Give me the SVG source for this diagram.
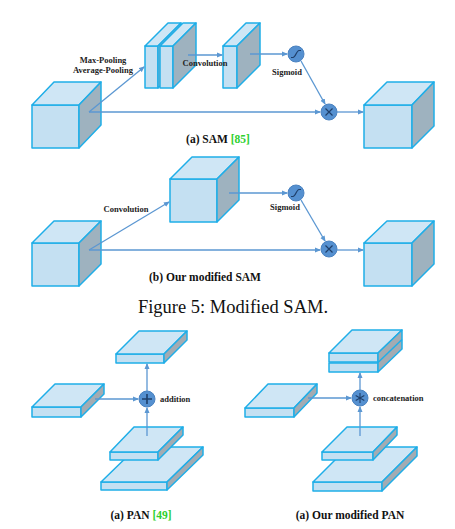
<svg xmlns="http://www.w3.org/2000/svg" width="455" height="529" viewBox="0 0 455 529">
<defs>
<style>
.fr{fill:#c4e0f2;stroke:#1faee8;stroke-width:1.5;stroke-linejoin:round}
.tp{fill:#cfe6f5;stroke:#1faee8;stroke-width:1.5;stroke-linejoin:round}
.rt{fill:#9eb2bf;stroke:#1faee8;stroke-width:1.5;stroke-linejoin:round}
.rg{fill:#a3abb2;stroke:#1faee8;stroke-width:1.5;stroke-linejoin:round}
.ar{fill:none;stroke:#5b97d2;stroke-width:1.3;marker-end:url(#ah)}
.op{fill:#5590d0;stroke:#4a82c0;stroke-width:1}
.sym{fill:none;stroke:#1f3f6a;stroke-width:1.2}
.lb{font-family:"Liberation Serif",serif;font-weight:bold;font-size:8.5px;fill:#222}
.cap{font-family:"Liberation Serif",serif;font-weight:bold;font-size:11.5px;fill:#111}
.ref{fill:#2ed02e}
</style>
<marker id="ah" markerWidth="6" markerHeight="6" refX="5" refY="3" orient="auto" markerUnits="userSpaceOnUse">
<path d="M0,0.5 L6,3 L0,5.5 z" fill="#5b97d2"/>
</marker>
</defs>

<!-- SAM -->
<g id="sam-input">
<rect class="fr" x="32" y="105" width="47" height="43"/>
<polygon class="tp" points="32,105 54,82 101,82 79,105"/>
<polygon class="rt" points="79,105 101,82 101,125 79,148"/>
</g>
<g id="sam-pool1">
<rect class="fr" x="145" y="46" width="13" height="42"/>
<polygon class="tp" points="145,46 168,23 181,23 158,46"/>
<polygon class="rt" points="158,46 181,23 181,65 158,88"/>
</g>
<g id="sam-pool2">
<rect class="fr" x="160" y="46" width="13" height="42"/>
<polygon class="tp" points="160,46 183,23 196,23 173,46"/>
<polygon class="rt" points="173,46 196,23 196,65 173,88"/>
</g>
<g id="sam-conv">
<rect class="fr" x="223" y="46" width="14" height="42"/>
<polygon class="tp" points="223,46 246,23 260,23 237,46"/>
<polygon class="rt" points="237,46 260,23 260,65 237,88"/>
</g>
<g id="sam-sigmoid">
<circle class="op" cx="296" cy="54" r="8"/>
<path class="sym" d="M291,57.5 L293,57.5 C295.5,57.5 296.5,50.5 299,50.5 L301,50.5"/>
</g>
<g id="sam-mul">
<circle class="op" cx="329" cy="112" r="8"/>
<path class="sym" d="M325.5,108.5 L332.5,115.5 M332.5,108.5 L325.5,115.5"/>
</g>
<g id="sam-output">
<rect class="fr" x="364" y="105" width="48" height="43"/>
<polygon class="tp" points="364,105 387,82 434,82 412,105"/>
<polygon class="rt" points="412,105 434,82 434,126 412,148"/>
</g>
<text class="lb" x="103" y="63" text-anchor="middle">Max-Pooling</text>
<text class="lb" x="103" y="73" text-anchor="middle">Average-Pooling</text>
<text class="lb" x="205" y="66" text-anchor="middle">Convolution</text>
<text class="lb" x="287" y="75" text-anchor="middle">Sigmoid</text>
<text class="cap" x="218" y="143" text-anchor="middle">(a) SAM <tspan class="ref">[85]</tspan></text>

<!-- modified SAM -->
<g id="msam-input">
<rect class="fr" x="32" y="243" width="47" height="43"/>
<polygon class="tp" points="32,243 54,221 101,221 79,243"/>
<polygon class="rt" points="79,243 101,221 101,264 79,286"/>
</g>
<g id="msam-conv">
<rect class="fr" x="170" y="179" width="47" height="43"/>
<polygon class="tp" points="170,179 192,157 239,157 217,179"/>
<polygon class="rt" points="217,179 239,157 239,200 217,222"/>
</g>
<g id="msam-sigmoid">
<circle class="op" cx="296" cy="193" r="8"/>
<path class="sym" d="M291,196.5 L293,196.5 C295.5,196.5 296.5,189.5 299,189.5 L301,189.5"/>
</g>
<g id="msam-mul">
<circle class="op" cx="329" cy="249" r="8"/>
<path class="sym" d="M325.5,245.5 L332.5,252.5 M332.5,245.5 L325.5,252.5"/>
</g>
<g id="msam-output">
<rect class="fr" x="364" y="243" width="48" height="43"/>
<polygon class="tp" points="364,243 387,221 434,221 412,243"/>
<polygon class="rt" points="412,243 434,221 434,264 412,286"/>
</g>
<text class="lb" x="126" y="212" text-anchor="middle">Convolution</text>
<text class="lb" x="285" y="210" text-anchor="middle">Sigmoid</text>
<text class="cap" x="205" y="281" text-anchor="middle">(b) Our modified SAM</text>

<text x="233" y="313" text-anchor="middle" font-family="'Liberation Serif',serif" font-size="18.5" fill="#111">Figure 5: Modified SAM.</text>

<!-- PAN -->
<g id="pan-top">
<rect class="fr" x="116" y="354" width="48" height="9"/>
<polygon class="tp" points="116,354 139,331 187,331 164,354"/>
<polygon class="rg" points="164,354 187,331 187,340 164,363"/>
</g>
<g id="pan-left">
<rect class="fr" x="32" y="407" width="49" height="10"/>
<polygon class="tp" points="32,407 55,384 104,384 81,407"/>
<polygon class="rg" points="81,407 104,384 104,394 81,417"/>
</g>
<g id="pan-bottom-large">
<rect class="fr" x="101" y="482" width="66" height="8"/>
<polygon class="tp" points="101,482 137,447 203,447 167,482"/>
<polygon class="rg" points="167,482 203,447 203,455 167,490"/>
</g>
<g id="pan-bottom-small">
<rect class="fr" x="110" y="452" width="48" height="8"/>
<polygon class="tp" points="110,452 134,427 183,427 158,452"/>
<polygon class="rg" points="158,452 183,427 183,435 158,460"/>
</g>
<g id="pan-add">
<circle class="op" cx="147" cy="399" r="8"/>
<path d="M142,399 H152 M147,394 V404" stroke="#1f3f6a" stroke-width="1.6" fill="none"/>
</g>
<text class="lb" x="160" y="402">addition</text>
<text class="cap" x="141" y="519" text-anchor="middle">(a) PAN <tspan class="ref">[49]</tspan></text>

<!-- modified PAN -->
<g id="mpan-top">
<rect class="fr" x="329" y="353" width="49" height="9"/>
<rect class="fr" x="329" y="363" width="49" height="9"/>
<polygon class="tp" points="329,353 352,330 402,330 378,353"/>
<polygon class="rg" points="378,353 402,330 402,349 378,372"/>
<line x1="378" y1="362.5" x2="402" y2="339.5" stroke="#1faee8" stroke-width="1.5"/>
</g>
<g id="mpan-left">
<rect class="fr" x="245" y="408" width="49" height="9"/>
<polygon class="tp" points="245,408 268,384 317,384 294,408"/>
<polygon class="rg" points="294,408 317,384 317,393 294,417"/>
</g>
<g id="mpan-bottom-large">
<rect class="fr" x="313" y="482" width="69" height="9"/>
<polygon class="tp" points="313,482 348,447 417,447 382,482"/>
<polygon class="rg" points="382,482 417,447 417,456 382,491"/>
</g>
<g id="mpan-bottom-small">
<rect class="fr" x="322" y="452" width="51" height="8"/>
<polygon class="tp" points="322,452 347,427 397,427 373,452"/>
<polygon class="rg" points="373,452 397,427 397,435 373,460"/>
</g>
<g id="mpan-concat">
<circle class="op" cx="360" cy="398" r="8"/>
<path d="M360,393 V403 M355.7,395.5 L364.3,400.5 M364.3,395.5 L355.7,400.5" stroke="#1f3f6a" stroke-width="1.1" fill="none"/>
</g>
<text class="lb" x="373" y="401">concatenation</text>
<text class="cap" x="350" y="519" text-anchor="middle">(a) Our modified PAN</text>

<g id="connectors">
<!-- SAM -->
<line class="ar" x1="89" y1="112" x2="144" y2="67"/>
<line class="ar" x1="188" y1="55" x2="222" y2="55"/>
<line class="ar" x1="250" y1="54" x2="287" y2="54"/>
<line class="ar" x1="301" y1="61" x2="325" y2="104"/>
<line class="ar" x1="89" y1="112" x2="320" y2="112"/>
<line class="ar" x1="337" y1="112" x2="363" y2="112"/>
<!-- modified SAM -->
<line class="ar" x1="89" y1="250" x2="169" y2="202"/>
<line class="ar" x1="229" y1="193" x2="287" y2="193"/>
<line class="ar" x1="301" y1="200" x2="325" y2="241"/>
<line class="ar" x1="89" y1="250" x2="320" y2="250"/>
<line class="ar" x1="337" y1="250" x2="363" y2="250"/>
<!-- PAN -->
<line class="ar" x1="95" y1="399" x2="138" y2="399"/>
<line class="ar" x1="147" y1="391" x2="147" y2="364"/>
<line class="ar" x1="147" y1="436" x2="147" y2="408"/>
<!-- modified PAN -->
<line class="ar" x1="308" y1="398" x2="351" y2="398"/>
<line class="ar" x1="360" y1="390" x2="360" y2="373"/>
<line class="ar" x1="360" y1="436" x2="360" y2="407"/>
</g>
</svg>
